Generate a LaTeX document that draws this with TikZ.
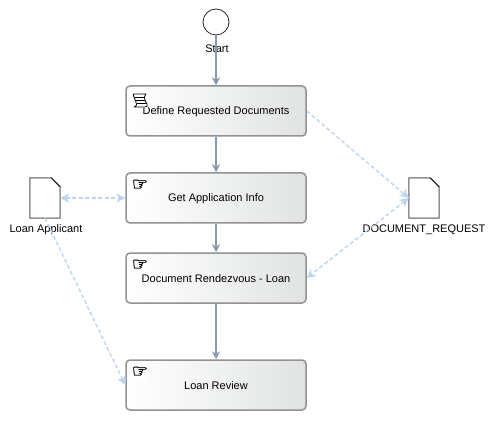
\documentclass[tikz,border=0pt]{standalone}
\usepackage{fontspec}
\setmainfont{Liberation Sans}
\newfontfamily\symfont[FakeBold=2]{DejaVu Sans}
\usetikzlibrary{arrows.meta}
\definecolor{flowc}{HTML}{8A99AB}
\definecolor{assocc}{HTML}{BBD4F3}
\definecolor{edgec}{HTML}{929292}
\definecolor{endc}{HTML}{E1E3E3}
\newcommand{\bltext}[1]{\raisebox{-4pt}[0pt][0pt]{#1}}
\tikzset{
  x=1pt,y=-1pt,
  task/.style={draw=edgec,line width=1.5pt,rounded corners=4pt,minimum width=180pt,minimum height=50pt,inner sep=0pt,left color=white,right color=endc,font=\fontsize{11}{13}\selectfont},
  startev/.style={circle,draw=black!85,fill=white,line width=.8pt,minimum size=26pt,inner sep=0pt},
  docbox/.style={minimum width=30pt,minimum height=40pt,inner sep=0pt},
  lbl/.style={font=\fontsize{11}{13}\selectfont,inner sep=0pt},
  flow/.style={draw=flowc,line width=1.5pt,-{Stealth[length=8pt,width=8pt]}},
  assoc/.style={draw=assocc,line width=1.4pt,dash pattern=on 4pt off 2.5pt,-{Stealth[length=9pt,width=9pt]}},
  assocb/.style={assoc,{Stealth[length=9pt,width=9pt]}-{Stealth[length=9pt,width=9pt]}},
  iconbg/.style={fill=white,inner sep=0pt,minimum size=16pt},
  hand/.style={font=\symfont\fontsize{18}{18}\selectfont,inner sep=0pt},
  docpage/.style={draw=edgec,line width=1.5pt,fill=white,line join=round},
}
\newcommand{\docshape}[1]{%
  \draw[docpage] (#1.north west) -- ([xshift=-9pt]#1.north east) -- ([yshift=-9pt]#1.north east) -- (#1.south east) -- (#1.south west) -- cycle;
  \draw[black,line width=.6pt] ([xshift=-9pt]#1.north east) -- ([yshift=-9pt]#1.north east);
}
\begin{document}
\begin{tikzpicture}
\useasboundingbox (0,0) rectangle (494,427);
\node[startev] (start) at (216,22) {};
\node[task] (def) at (216,111) {\bltext{Define Requested Documents}};
\node[task] (get) at (216,198) {\bltext{Get Application Info}};
\node[task] (rdv) at (216,278) {\bltext{Document Rendezvous - Loan}};
\node[task] (rev) at (216,385) {\bltext{Loan Review}};
\node[docbox] (app) at (45,198) {};
\node[docbox] (req) at (424,198) {};
\docshape{app}
\docshape{req}
\node[lbl] (startl) at (217,49) {\bltext{Start}};
\node[lbl] (appl) at (46,229) {\bltext{Loan Applicant}};
\node[lbl] (reql) at (424,229) {\bltext{DOCUMENT\_REQUEST}};
\draw[flow] (start) -- (def);
\draw[flow] (def) -- (get);
\draw[flow] (get) -- (rdv);
\draw[flow] (rdv) -- (rev);
\draw[assoc] (def.east) -- (req.west);
\draw[assocb] (req.west) -- (rdv.east);
\draw[assocb] (app.east) -- (get.west);
\draw[assoc] (app.south) -- (rev.west);
\node[iconbg] (i1) at (140,100) {};
\node[iconbg] (i2) at (140,185) {};
\node[iconbg] (i3) at (140,265) {};
\node[iconbg] (i4) at (140,372) {};
\node[hand] (h2) at (i2) {☞};
\node[hand] (h3) at (i3) {☞};
\node[hand] (h4) at (i4) {☞};
% script icon
\draw[black,line width=.8pt,fill=white,line join=round] (134,94) -- (146,94) .. controls (144,97) and (144,98) .. (145,100) -- (147,104) .. controls (148,106) and (147,107) .. (145,107) -- (134,107) .. controls (137,106) and (137,104) .. (136,102) -- (134,97) .. controls (133,95) and (133,94) .. (134,94) -- cycle;
\draw[black,line width=.8pt] (135,97) -- (144,97) (136,100) -- (145,100) (137,103) -- (146,103);
\end{tikzpicture}
\end{document}
